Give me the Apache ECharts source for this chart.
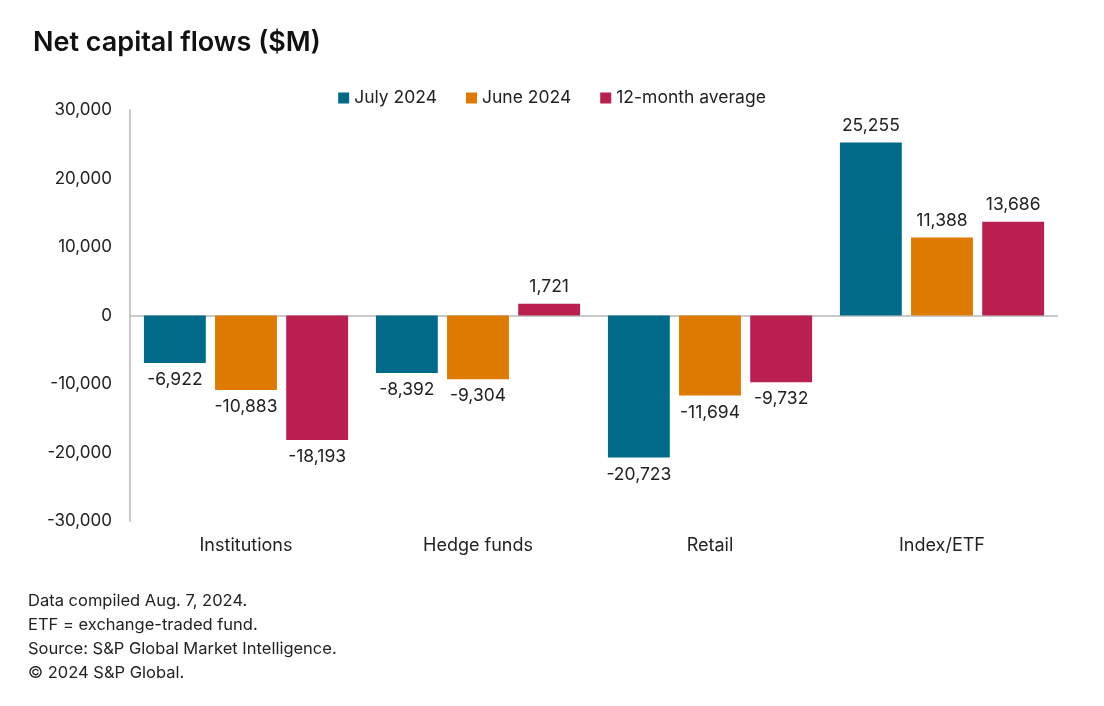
<!DOCTYPE html>
<html>
<head>
<meta charset="utf-8">
<script src="https://cdn.jsdelivr.net/npm/echarts@6/dist/echarts.min.js"></script>
<style>
html,body{margin:0;padding:0;background:#fff;}
#chart{width:1104px;height:706px;}
</style>
</head>
<body>
<div id="chart"></div>
<script>
var categories = ['Institutions', 'Hedge funds', 'Retail', 'Index/ETF'];
var seriesNames = ['July 2024', 'June 2024', '12-month average'];
var july2024 = [-6922, -8392, -20723, 25255];
var june2024 = [-10883, -9304, -11694, 11388];
var avg12 = [-18193, 1721, -9732, 13686];
var colors = ['#006a88', '#de7a00', '#b91f4f'];
var footnotes = [
  'Data compiled Aug. 7, 2024.',
  'ETF = exchange-traded fund.',
  'Source: S&P Global Market Intelligence.',
  '\u00a9 2024 S&P Global.'
];

var FONT = 'Inter, "Noto Sans", sans-serif';
function fmt(v) {
  return v.toLocaleString('en-US');
}
function toData(arr) {
  return arr.map(function (v) {
    return { value: v, label: { position: v < 0 ? 'bottom' : 'top' } };
  });
}
var allSeries = [july2024, june2024, avg12].map(function (arr, i) {
  var s = {
    name: seriesNames[i],
    type: 'bar',
    data: toData(arr),
    itemStyle: { color: colors[i] },
    barGap: '15%',
    barCategoryGap: '12%',
    label: {
      show: true,
      distance: 8,
      fontFamily: FONT,
      fontSize: 17.5,
      color: '#222',
      formatter: function (p) { return fmt(p.value); }
    }
  };
  if (i === 0) {
    s.markLine = {
      silent: true,
      symbol: ['none', 'none'],
      label: { show: false },
      lineStyle: { color: '#b8b8b8', width: 1.5, type: 'solid' },
      data: [{ yAxis: 0 }],
      z: 1
    };
  }
  return s;
});

var chart = echarts.init(document.getElementById('chart'));
chart.setOption({
  animation: false,
  backgroundColor: '#fff',
  color: colors,
  title: {
    text: 'Net capital flows ($M)',
    left: 28,
    top: 24,
    textStyle: { fontFamily: FONT, fontSize: 27, fontWeight: 600, color: '#111' }
  },
  legend: {
    data: seriesNames,
    left: 'center',
    top: 84,
    itemWidth: 11,
    itemHeight: 11,
    itemGap: 29,
    icon: 'rect',
    textStyle: { fontFamily: FONT, fontSize: 17.5, color: '#222' }
  },
  graphic: footnotes.map(function (t, i) {
    return {
      type: 'text',
      left: 28,
      top: 593 + i * 24,
      style: { text: t, font: '16.5px ' + FONT, fill: '#222' }
    };
  }),
  grid: { left: 130, right: 46, top: 110, bottom: 185 },
  xAxis: {
    type: 'category',
    data: categories,
    axisLine: { show: false },
    axisTick: { show: false },
    axisLabel: { margin: 16, fontFamily: FONT, fontSize: 18, color: '#222' }
  },
  yAxis: {
    type: 'value',
    min: -30000,
    max: 30000,
    interval: 10000,
    axisLine: { show: true, lineStyle: { color: '#c8c8c8', width: 2 } },
    axisTick: { show: false },
    splitLine: { show: false },
    axisLabel: {
      margin: 18,
      fontFamily: FONT,
      fontSize: 17,
      color: '#222',
      formatter: function (v) { return fmt(v); }
    }
  },
  series: allSeries
});
</script>
</body>
</html>
